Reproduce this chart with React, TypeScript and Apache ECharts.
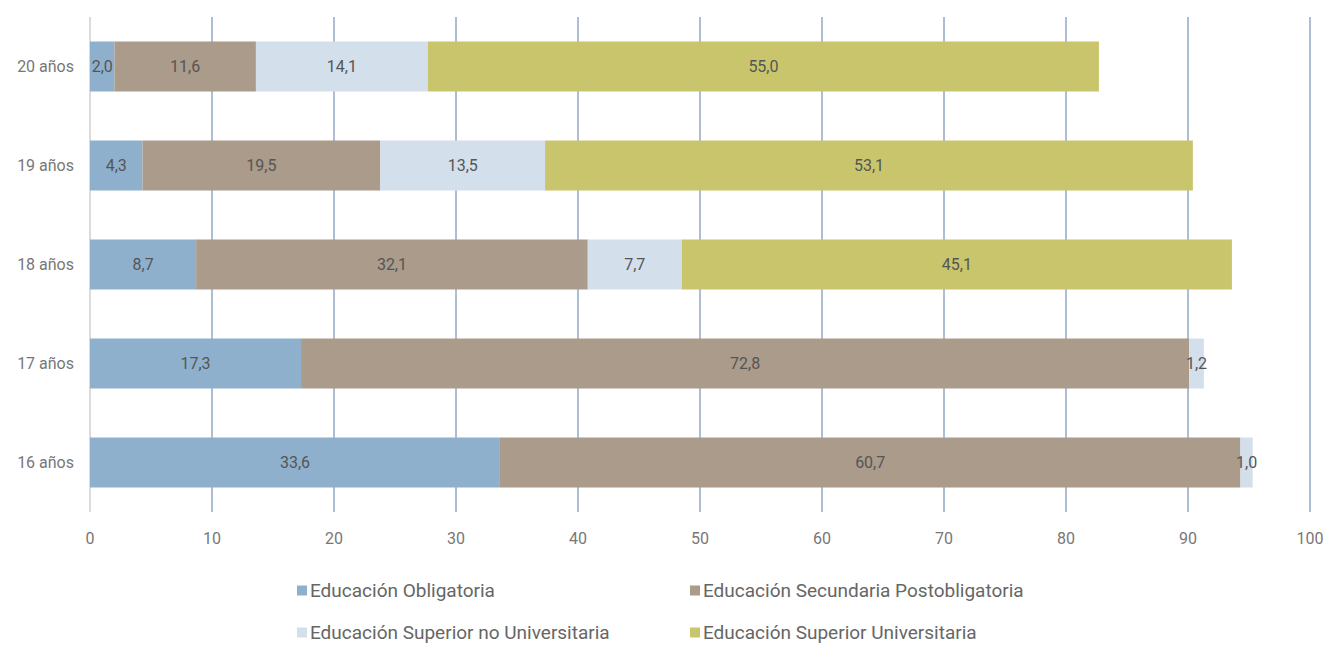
import React, { useEffect, useRef } from "react";
import * as echarts from "echarts";

const categories = ["16 años", "17 años", "18 años", "19 años", "20 años"];
const seriesNames = [
  "Educación Obligatoria",
  "Educación Secundaria Postobligatoria",
  "Educación Superior no Universitaria",
  "Educación Superior Universitaria",
];
const obligatoria = [33.6, 17.3, 8.7, 4.3, 2.0];
const secundaria = [60.7, 72.8, 32.1, 19.5, 11.6];
const superiorNoUniv = [1.0, 1.2, 7.7, 13.5, 14.1];
const superiorUniv = [null, null, 45.1, 53.1, 55.0];
const colors = ["#8EB0CD", "#AA9B8B", "#D3DFEB", "#C9C56C"];

const FONT = "'Liberation Sans Narrow', 'Roboto', sans-serif";

export default function App() {
  const ref = useRef<HTMLDivElement>(null);
  useEffect(() => {
    const chart = echarts.init(ref.current!, null, { renderer: "svg" });
    const data = [obligatoria, secundaria, superiorNoUniv, superiorUniv];
    const gridColors = ["#cfcfcf"].concat(Array(10).fill("#8FA9C5"));
    const legendPos = [
      { left: 297, top: 581 },
      { left: 690, top: 581 },
      { left: 297, top: 623 },
      { left: 690, top: 623 },
    ];
    chart.setOption({
      animation: false,
      textStyle: { fontFamily: FONT },
      grid: { left: 90, right: 18, top: 17, height: 495, containLabel: false },
      xAxis: {
        type: "value",
        min: 0,
        max: 100,
        interval: 10,
        axisLine: { show: false },
        axisTick: { show: false },
        axisLabel: { color: "#777", fontSize: 16, margin: 18, fontFamily: FONT },
        splitLine: { show: true, lineStyle: { color: gridColors, width: 1.5 } },
      },
      yAxis: {
        type: "category",
        data: categories,
        axisLine: { show: false },
        axisTick: { show: false },
        axisLabel: { color: "#777", fontSize: 16, margin: 16, fontFamily: FONT },
      },
      legend: seriesNames.map((n, i) => ({
        data: [n],
        left: legendPos[i].left,
        top: legendPos[i].top,
        padding: 0,
        itemWidth: 10,
        itemHeight: 10,
        itemGap: 4,
        icon: "rect",
        textStyle: { color: "#666", fontSize: 19, fontFamily: FONT, padding: [0, 0, 0, -2] },
      })),
      series: seriesNames.map((n, i) => ({
        name: n,
        type: "bar",
        stack: "total",
        barWidth: 50,
        color: colors[i],
        data: data[i],
        label: {
          show: true,
          position: "inside",
          color: "#555",
          fontSize: 16,
          fontFamily: FONT,
          formatter: (p: any) => (p.value == null ? "" : Number(p.value).toFixed(1).replace(".", ",")),
        },
      })),
    });
    return () => chart.dispose();
  }, []);
  return <div ref={ref} style={{ width: 1328, height: 646, position: "absolute", left: 0, top: 0 }} />;
}
